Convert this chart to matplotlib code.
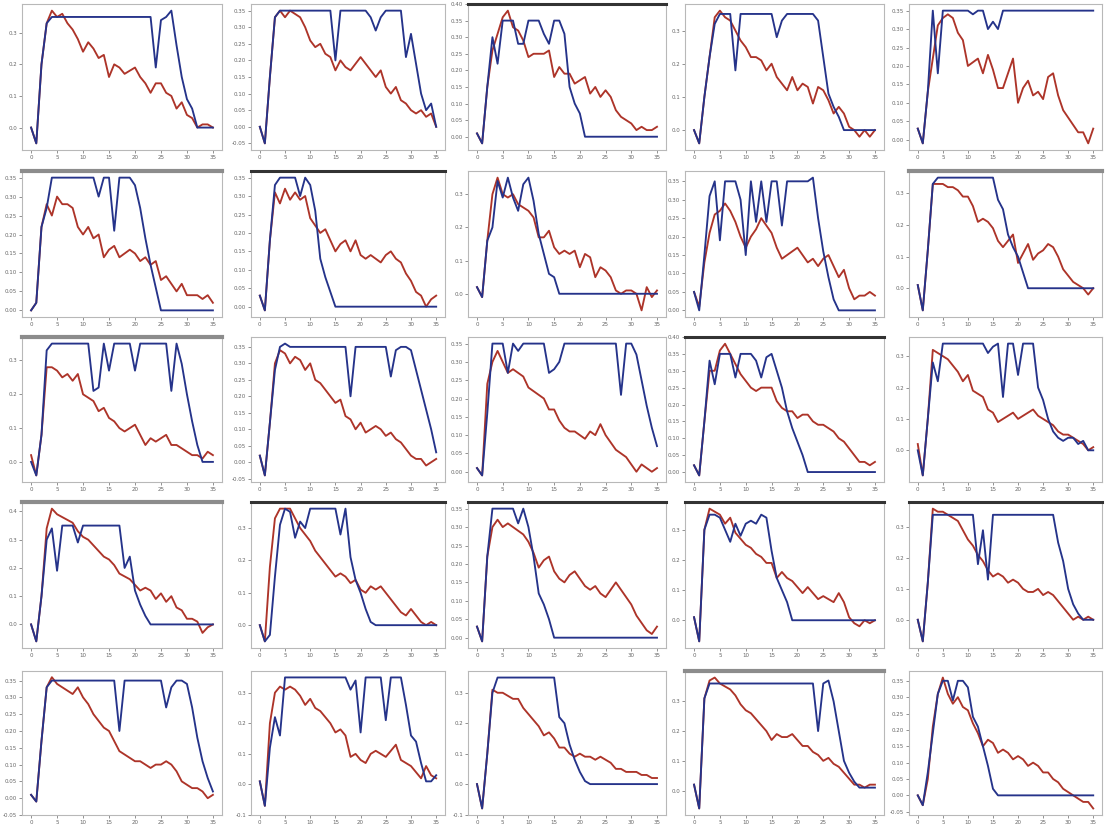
import matplotlib
matplotlib.use("Agg")
import matplotlib.pyplot as plt
from matplotlib.ticker import FormatStrFormatter

x_vals = [0, 1, 2, 3, 4, 5, 6, 7, 8, 9, 10, 11, 12, 13, 14, 15, 16, 17,
          18, 19, 20, 21, 22, 23, 24, 25, 26, 27, 28, 29, 30, 31, 32, 33, 34, 35]
x_ticks = [0, 5, 10, 15, 20, 25, 30, 35]

# ---------------- row 1 ----------------
p00_blue = [0.00,-0.05,0.20,0.33,0.35,0.35,0.35,0.35,0.35,0.35,
            0.35,0.35,0.35,0.35,0.35,0.35,0.35,0.35,0.35,0.35,
            0.35,0.35,0.35,0.35,0.19,0.34,0.35,0.37,0.26,0.16,
            0.09,0.06,0.00,0.00,0.00,0.00]
p00_red = [0.00,-0.05,0.20,0.33,0.37,0.35,0.36,0.33,0.31,0.28,
           0.24,0.27,0.25,0.22,0.23,0.16,0.20,0.19,0.17,0.18,
           0.19,0.16,0.14,0.11,0.14,0.14,0.11,0.10,0.06,0.08,
           0.04,0.03,0.00,0.01,0.01,0.00]
p01_blue = [0.00,-0.05,0.15,0.33,0.35,0.35,0.35,0.35,0.35,0.35,
            0.35,0.35,0.35,0.35,0.35,0.20,0.35,0.35,0.35,0.35,
            0.35,0.35,0.33,0.29,0.33,0.35,0.35,0.35,0.35,0.21,
            0.28,0.19,0.10,0.05,0.07,0.00]
p01_red = [0.00,-0.05,0.15,0.33,0.35,0.33,0.35,0.34,0.33,0.30,
           0.26,0.24,0.25,0.22,0.21,0.17,0.20,0.18,0.17,0.19,
           0.21,0.19,0.17,0.15,0.17,0.12,0.10,0.12,0.08,0.07,
           0.05,0.04,0.05,0.03,0.04,0.00]
p02_blue = [0.01,-0.02,0.15,0.30,0.22,0.35,0.35,0.35,0.28,0.28,
            0.35,0.35,0.35,0.31,0.28,0.35,0.35,0.31,0.15,0.10,
            0.07,0.00,0.00,0.00,0.00,0.00,0.00,0.00,0.00,0.00,
            0.00,0.00,0.00,0.00,0.00,0.00]
p02_red = [0.01,-0.02,0.15,0.26,0.31,0.36,0.38,0.33,0.32,0.29,
           0.24,0.25,0.25,0.25,0.26,0.18,0.21,0.19,0.19,0.16,
           0.17,0.18,0.13,0.15,0.12,0.14,0.12,0.08,0.06,0.05,
           0.04,0.02,0.03,0.02,0.02,0.03]
p03_blue = [0.00,-0.04,0.10,0.22,0.32,0.35,0.35,0.35,0.18,0.35,
            0.35,0.35,0.35,0.35,0.35,0.35,0.28,0.33,0.35,0.35,
            0.35,0.35,0.35,0.35,0.33,0.22,0.11,0.07,0.04,0.00,
            0.00,0.00,0.00,0.00,0.00,0.00]
p03_red = [0.00,-0.04,0.10,0.22,0.34,0.36,0.34,0.33,0.30,0.27,
           0.25,0.22,0.22,0.21,0.18,0.20,0.16,0.14,0.12,0.16,
           0.12,0.14,0.13,0.08,0.13,0.12,0.09,0.05,0.07,0.05,
           0.01,0.00,-0.02,0.00,-0.02,0.00]
p04_blue = [0.03,-0.01,0.13,0.35,0.18,0.35,0.35,0.35,0.35,0.35,
            0.35,0.34,0.35,0.35,0.30,0.32,0.30,0.35,0.35,0.35,
            0.35,0.35,0.35,0.35,0.35,0.35,0.35,0.35,0.35,0.35,
            0.35,0.35,0.35,0.35,0.35,0.35]
p04_red = [0.03,-0.01,0.13,0.22,0.31,0.33,0.34,0.33,0.29,0.27,
           0.20,0.21,0.22,0.18,0.23,0.19,0.14,0.14,0.18,0.22,
           0.10,0.14,0.16,0.12,0.13,0.11,0.17,0.18,0.12,0.08,
           0.06,0.04,0.02,0.02,-0.01,0.03]

# ---------------- row 2 ----------------
p10_blue = [0.00,0.02,0.22,0.27,0.35,0.35,0.35,0.35,0.35,0.35,
            0.35,0.35,0.35,0.30,0.35,0.35,0.21,0.35,0.35,0.35,
            0.33,0.27,0.19,0.12,0.06,0.00,0.00,0.00,0.00,0.00,
            0.00,0.00,0.00,0.00,0.00,0.00]
p10_red = [0.00,0.02,0.22,0.28,0.25,0.30,0.28,0.28,0.27,0.22,
           0.20,0.22,0.19,0.20,0.14,0.16,0.17,0.14,0.15,0.16,
           0.15,0.13,0.14,0.12,0.13,0.08,0.09,0.07,0.05,0.07,
           0.04,0.04,0.04,0.03,0.04,0.02]
p11_blue = [0.03,-0.01,0.18,0.33,0.35,0.35,0.35,0.35,0.30,0.35,
            0.33,0.26,0.13,0.08,0.04,0.00,0.00,0.00,0.00,0.00,
            0.00,0.00,0.00,0.00,0.00,0.00,0.00,0.00,0.00,0.00,
            0.00,0.00,0.00,0.00,0.00,0.00]
p11_red = [0.03,-0.01,0.18,0.31,0.28,0.32,0.29,0.31,0.29,0.30,
           0.24,0.22,0.20,0.21,0.18,0.15,0.17,0.18,0.15,0.18,
           0.14,0.13,0.14,0.13,0.12,0.14,0.15,0.13,0.12,0.09,
           0.07,0.04,0.03,0.00,0.02,0.03]
p12_blue = [0.02,-0.01,0.16,0.20,0.34,0.29,0.35,0.29,0.25,0.33,
            0.35,0.28,0.18,0.12,0.06,0.05,0.00,0.00,0.00,0.00,
            0.00,0.00,0.00,0.00,0.00,0.00,0.00,0.00,0.00,0.00,
            0.00,0.00,0.00,0.00,0.00,0.00]
p12_red = [0.02,-0.01,0.16,0.30,0.35,0.30,0.29,0.30,0.27,0.26,
           0.25,0.23,0.17,0.17,0.19,0.14,0.12,0.13,0.12,0.13,
           0.08,0.12,0.11,0.05,0.08,0.07,0.05,0.01,0.00,0.01,
           0.01,0.00,-0.05,0.02,-0.01,0.01]
p13_blue = [0.05,0.00,0.15,0.31,0.35,0.19,0.35,0.35,0.35,0.30,
            0.15,0.35,0.24,0.35,0.24,0.35,0.35,0.23,0.35,0.35,
            0.35,0.35,0.35,0.36,0.25,0.16,0.09,0.03,0.00,0.00,
            0.00,0.00,0.00,0.00,0.00,0.00]
p13_red = [0.05,0.01,0.13,0.21,0.26,0.27,0.29,0.27,0.24,0.20,
           0.17,0.20,0.22,0.25,0.23,0.21,0.17,0.14,0.15,0.16,
           0.17,0.15,0.13,0.14,0.12,0.14,0.15,0.12,0.09,0.11,
           0.06,0.03,0.04,0.04,0.05,0.04]
p14_blue = [0.01,-0.07,0.12,0.33,0.35,0.35,0.35,0.35,0.35,0.35,
            0.35,0.35,0.35,0.35,0.35,0.35,0.28,0.25,0.17,0.13,
            0.10,0.05,0.00,0.00,0.00,0.00,0.00,0.00,0.00,0.00,
            0.00,0.00,0.00,0.00,0.00,0.00]
p14_red = [0.01,-0.07,0.12,0.33,0.33,0.33,0.32,0.32,0.31,0.29,
           0.29,0.26,0.21,0.22,0.21,0.19,0.15,0.13,0.15,0.17,
           0.08,0.11,0.14,0.09,0.11,0.12,0.14,0.13,0.10,0.06,
           0.04,0.02,0.01,0.00,-0.02,0.00]

# ---------------- row 3 ----------------
p20_blue = [0.00,-0.04,0.08,0.33,0.35,0.35,0.35,0.35,0.35,0.35,
            0.35,0.35,0.21,0.22,0.35,0.27,0.35,0.35,0.35,0.35,
            0.27,0.35,0.35,0.35,0.35,0.35,0.35,0.21,0.35,0.29,
            0.20,0.12,0.05,0.00,0.00,0.00]
p20_red = [0.02,-0.04,0.08,0.28,0.28,0.27,0.25,0.26,0.24,0.26,
           0.20,0.19,0.18,0.15,0.16,0.13,0.12,0.10,0.09,0.10,
           0.11,0.08,0.05,0.07,0.06,0.07,0.08,0.05,0.05,0.04,
           0.03,0.02,0.02,0.01,0.03,0.02]
p21_blue = [0.02,-0.04,0.12,0.28,0.35,0.36,0.35,0.35,0.35,0.35,
            0.35,0.35,0.35,0.35,0.35,0.35,0.35,0.35,0.20,0.35,
            0.35,0.35,0.35,0.35,0.35,0.35,0.26,0.34,0.35,0.35,
            0.34,0.28,0.22,0.16,0.10,0.03]
p21_red = [0.02,-0.04,0.12,0.30,0.34,0.33,0.30,0.32,0.31,0.28,
           0.30,0.25,0.24,0.22,0.20,0.18,0.19,0.14,0.13,0.10,
           0.12,0.09,0.10,0.11,0.10,0.08,0.09,0.07,0.06,0.04,
           0.02,0.01,0.01,-0.01,0.00,0.01]
p22_blue = [0.01,-0.01,0.16,0.35,0.35,0.35,0.27,0.35,0.33,0.35,
            0.35,0.35,0.35,0.35,0.27,0.28,0.30,0.35,0.35,0.35,
            0.35,0.35,0.35,0.35,0.35,0.35,0.35,0.35,0.21,0.35,
            0.35,0.32,0.25,0.18,0.12,0.07]
p22_red = [0.01,-0.01,0.24,0.30,0.33,0.30,0.27,0.28,0.27,0.26,
           0.23,0.22,0.21,0.20,0.17,0.17,0.14,0.12,0.11,0.11,
           0.10,0.09,0.11,0.10,0.13,0.10,0.08,0.06,0.05,0.04,
           0.02,0.00,0.02,0.01,0.00,0.01]
p23_blue = [0.02,-0.01,0.15,0.33,0.26,0.35,0.35,0.35,0.28,0.35,
            0.35,0.35,0.33,0.28,0.34,0.35,0.30,0.25,0.18,0.13,
            0.09,0.05,0.00,0.00,0.00,0.00,0.00,0.00,0.00,0.00,
            0.00,0.00,0.00,0.00,0.00,0.00]
p23_red = [0.02,-0.01,0.15,0.30,0.30,0.36,0.38,0.35,0.32,0.29,
           0.27,0.25,0.24,0.25,0.25,0.25,0.21,0.19,0.18,0.18,
           0.16,0.17,0.17,0.15,0.14,0.14,0.13,0.12,0.10,0.09,
           0.07,0.05,0.03,0.03,0.02,0.03]
p24_blue = [0.00,-0.08,0.10,0.28,0.22,0.34,0.34,0.34,0.34,0.34,
            0.34,0.34,0.34,0.34,0.31,0.33,0.34,0.17,0.34,0.34,
            0.24,0.34,0.34,0.34,0.20,0.16,0.10,0.06,0.04,0.03,
            0.04,0.04,0.02,0.03,0.00,0.00]
p24_red = [0.02,-0.08,0.10,0.32,0.31,0.30,0.29,0.27,0.25,0.22,
           0.24,0.19,0.18,0.17,0.13,0.12,0.09,0.10,0.11,0.12,
           0.10,0.11,0.12,0.13,0.11,0.10,0.09,0.08,0.06,0.05,
           0.05,0.04,0.03,0.02,0.00,0.01]

# ---------------- row 4 ----------------
p30_blue = [0.00,-0.06,0.10,0.30,0.34,0.19,0.35,0.35,0.35,0.29,
            0.35,0.35,0.35,0.35,0.35,0.35,0.35,0.35,0.20,0.24,
            0.12,0.07,0.03,0.00,0.00,0.00,0.00,0.00,0.00,0.00,
            0.00,0.00,0.00,0.00,0.00,0.00]
p30_red = [0.00,-0.06,0.10,0.34,0.41,0.39,0.38,0.37,0.36,0.33,
           0.31,0.30,0.28,0.26,0.24,0.23,0.21,0.18,0.17,0.16,
           0.14,0.12,0.13,0.12,0.09,0.11,0.08,0.10,0.06,0.05,
           0.02,0.02,0.01,-0.03,-0.01,0.00]
p31_blue = [0.00,-0.05,-0.03,0.15,0.31,0.36,0.35,0.27,0.32,0.30,
            0.36,0.36,0.36,0.36,0.36,0.36,0.28,0.36,0.21,0.14,
            0.10,0.05,0.01,0.00,0.00,0.00,0.00,0.00,0.00,0.00,
            0.00,0.00,0.00,0.00,0.00,0.00]
p31_red = [0.00,-0.05,0.18,0.33,0.36,0.36,0.36,0.33,0.30,0.28,
           0.26,0.23,0.21,0.19,0.17,0.15,0.16,0.15,0.13,0.14,
           0.11,0.10,0.12,0.11,0.12,0.10,0.08,0.06,0.04,0.03,
           0.05,0.03,0.01,0.00,0.01,0.00]
p32_blue = [0.03,-0.01,0.22,0.35,0.35,0.35,0.35,0.35,0.31,0.35,
            0.30,0.22,0.12,0.09,0.05,0.00,0.00,0.00,0.00,0.00,
            0.00,0.00,0.00,0.00,0.00,0.00,0.00,0.00,0.00,0.00,
            0.00,0.00,0.00,0.00,0.00,0.00]
p32_red = [0.03,-0.01,0.22,0.30,0.32,0.30,0.31,0.30,0.29,0.28,
           0.26,0.23,0.19,0.21,0.22,0.18,0.16,0.15,0.17,0.18,
           0.16,0.14,0.13,0.14,0.12,0.11,0.13,0.15,0.13,0.11,
           0.09,0.06,0.04,0.02,0.01,0.03]
p33_blue = [0.01,-0.07,0.30,0.35,0.35,0.34,0.30,0.26,0.32,0.28,
            0.32,0.33,0.32,0.35,0.34,0.23,0.14,0.10,0.06,0.00,
            0.00,0.00,0.00,0.00,0.00,0.00,0.00,0.00,0.00,0.00,
            0.00,0.00,0.00,0.00,0.00,0.00]
p33_red = [0.01,-0.07,0.30,0.37,0.36,0.35,0.32,0.34,0.29,0.27,
           0.25,0.24,0.22,0.21,0.19,0.19,0.14,0.16,0.14,0.13,
           0.11,0.09,0.11,0.09,0.07,0.08,0.07,0.06,0.09,0.06,
           0.01,-0.01,-0.02,0.00,-0.01,0.00]
p34_blue = [0.00,-0.07,0.12,0.34,0.34,0.34,0.34,0.34,0.34,0.34,
            0.34,0.34,0.18,0.29,0.13,0.34,0.34,0.34,0.34,0.34,
            0.34,0.34,0.34,0.34,0.34,0.34,0.34,0.34,0.25,0.19,
            0.10,0.05,0.02,0.00,0.00,0.00]
p34_red = [0.00,-0.07,0.12,0.36,0.35,0.35,0.34,0.33,0.32,0.29,
           0.26,0.24,0.21,0.19,0.16,0.14,0.15,0.14,0.12,0.13,
           0.12,0.10,0.09,0.09,0.10,0.08,0.09,0.08,0.06,0.04,
           0.02,0.00,0.01,0.00,0.01,0.00]

# ---------------- row 5 ----------------
p40_blue = [0.01,-0.01,0.17,0.33,0.35,0.35,0.35,0.35,0.35,0.35,
            0.35,0.35,0.35,0.35,0.35,0.35,0.35,0.20,0.35,0.35,
            0.35,0.35,0.35,0.35,0.35,0.35,0.27,0.33,0.35,0.35,
            0.34,0.27,0.18,0.11,0.06,0.02]
p40_red = [0.01,-0.01,0.17,0.33,0.36,0.34,0.33,0.32,0.31,0.33,
           0.30,0.28,0.25,0.23,0.21,0.20,0.17,0.14,0.13,0.12,
           0.11,0.11,0.10,0.09,0.10,0.10,0.11,0.10,0.08,0.05,
           0.04,0.03,0.03,0.02,0.00,0.01]
p41_blue = [0.01,-0.07,0.12,0.22,0.16,0.35,0.35,0.35,0.35,0.35,
            0.35,0.35,0.35,0.35,0.35,0.35,0.35,0.35,0.31,0.34,
            0.17,0.35,0.35,0.35,0.35,0.21,0.35,0.35,0.35,0.26,
            0.16,0.14,0.07,0.01,0.01,0.03]
p41_red = [0.01,-0.07,0.20,0.30,0.32,0.31,0.32,0.31,0.29,0.26,
           0.28,0.25,0.24,0.22,0.20,0.17,0.18,0.16,0.09,0.10,
           0.08,0.07,0.10,0.11,0.10,0.09,0.11,0.13,0.08,0.07,
           0.06,0.04,0.02,0.06,0.03,0.02]
p42_blue = [0.00,-0.08,0.10,0.30,0.35,0.35,0.35,0.35,0.35,0.35,
            0.35,0.35,0.35,0.35,0.35,0.35,0.22,0.20,0.13,0.08,
            0.04,0.01,0.00,0.00,0.00,0.00,0.00,0.00,0.00,0.00,
            0.00,0.00,0.00,0.00,0.00,0.00]
p42_red = [0.00,-0.08,0.10,0.31,0.30,0.30,0.29,0.28,0.28,0.25,
           0.23,0.21,0.19,0.16,0.17,0.15,0.12,0.12,0.10,0.09,
           0.10,0.09,0.09,0.08,0.09,0.08,0.07,0.05,0.05,0.04,
           0.04,0.04,0.03,0.03,0.02,0.02]
p43_blue = [0.02,-0.06,0.31,0.36,0.36,0.36,0.36,0.36,0.36,0.36,
            0.36,0.36,0.36,0.36,0.36,0.36,0.36,0.36,0.36,0.36,
            0.36,0.36,0.36,0.36,0.20,0.36,0.37,0.30,0.20,0.10,
            0.06,0.03,0.01,0.01,0.01,0.01]
p43_red = [0.02,-0.06,0.31,0.37,0.38,0.36,0.35,0.34,0.32,0.29,
           0.27,0.26,0.24,0.22,0.20,0.17,0.19,0.18,0.18,0.19,
           0.17,0.15,0.15,0.13,0.12,0.10,0.11,0.09,0.08,0.06,
           0.04,0.02,0.02,0.01,0.02,0.02]
p44_blue = [0.00,-0.03,0.07,0.19,0.31,0.35,0.35,0.29,0.35,0.35,
            0.33,0.24,0.21,0.15,0.09,0.02,0.00,0.00,0.00,0.00,
            0.00,0.00,0.00,0.00,0.00,0.00,0.00,0.00,0.00,0.00,
            0.00,0.00,0.00,0.00,0.00,0.00]
p44_red = [0.00,-0.03,0.05,0.21,0.31,0.36,0.31,0.28,0.30,0.27,
           0.26,0.22,0.19,0.15,0.17,0.16,0.13,0.14,0.13,0.11,
           0.12,0.11,0.09,0.10,0.09,0.07,0.07,0.05,0.04,0.02,
           0.01,0.00,-0.01,-0.02,-0.02,-0.04]

# y tick label sets
yt_01 = [0.0, 0.1, 0.2, 0.3]
yt_01b = [0.0, 0.1, 0.2, 0.3, 0.4]
yt_01c = [-0.1, 0.0, 0.1, 0.2, 0.3]
yt_005 = [0.00, 0.05, 0.10, 0.15, 0.20, 0.25, 0.30, 0.35]
yt_005n = [-0.05, 0.00, 0.05, 0.10, 0.15, 0.20, 0.25, 0.30, 0.35]
yt_005t = [0.00, 0.05, 0.10, 0.15, 0.20, 0.25, 0.30, 0.35, 0.40]

panels = [
    [(p00_blue, p00_red, yt_01), (p01_blue, p01_red, yt_005n), (p02_blue, p02_red, yt_005t),
     (p03_blue, p03_red, yt_01), (p04_blue, p04_red, yt_005)],
    [(p10_blue, p10_red, yt_005), (p11_blue, p11_red, yt_005), (p12_blue, p12_red, yt_01),
     (p13_blue, p13_red, yt_005), (p14_blue, p14_red, yt_01)],
    [(p20_blue, p20_red, yt_01), (p21_blue, p21_red, yt_005n), (p22_blue, p22_red, yt_005),
     (p23_blue, p23_red, yt_005t), (p24_blue, p24_red, yt_01)],
    [(p30_blue, p30_red, yt_01b), (p31_blue, p31_red, yt_01), (p32_blue, p32_red, yt_005),
     (p33_blue, p33_red, yt_01), (p34_blue, p34_red, yt_01)],
    [(p40_blue, p40_red, yt_005n), (p41_blue, p41_red, yt_01c), (p42_blue, p42_red, yt_01c),
     (p43_blue, p43_red, yt_01), (p44_blue, p44_red, yt_005n)],
]

# top border style per panel: 0 light, 1 thick grey, 2 thick dark
top_style = [
    [0, 0, 2, 0, 0],
    [1, 2, 0, 0, 1],
    [1, 0, 0, 2, 0],
    [1, 2, 2, 2, 2],
    [0, 0, 0, 1, 0],
]

W, H = 1105, 827
col_left = [22, 251, 468, 685, 909]
col_right = [222, 445, 666, 884, 1102]
row_top = [4, 171, 337, 502, 671]
row_bottom = [150, 317, 482, 648, 815]

fig = plt.figure(figsize=(W / 100, H / 100), dpi=100)
fig.patch.set_facecolor("white")

BLUE = "#25338a"
RED = "#ad3429"

for r in range(5):
    for c in range(5):
        blue, red, yt = panels[r][c]
        for name, arr in (("blue", blue), ("red", red)):
            if len(arr) != len(x_vals):
                raise ValueError(f"panel {r}{c} {name} has {len(arr)} values")
        left = col_left[c] / W
        bottom = 1 - row_bottom[r] / H
        width = (col_right[c] - col_left[c]) / W
        height = (row_bottom[r] - row_top[r]) / H
        ax = fig.add_axes([left, bottom, width, height])
        ax.plot(x_vals, red, color=RED, lw=1.35, zorder=2)
        ax.plot(x_vals, blue, color=BLUE, lw=1.35, zorder=3)
        ax.set_xticks(x_ticks)
        ax.set_yticks(yt)
        if yt[1] - yt[0] < 0.09:
            ax.yaxis.set_major_formatter(FormatStrFormatter("%.2f"))
        else:
            ax.yaxis.set_major_formatter(FormatStrFormatter("%.1f"))
        ax.tick_params(labelsize=4, colors="#666666", length=2, width=0.5, pad=1.5)
        for sp in ax.spines.values():
            sp.set_color("#b8b8b8")
            sp.set_linewidth(0.8)
        ts = top_style[r][c]
        if ts == 1:
            ax.spines["top"].set_color("#8c8c8c")
            ax.spines["top"].set_linewidth(3.0)
        elif ts == 2:
            ax.spines["top"].set_color("#333333")
            ax.spines["top"].set_linewidth(2.2)

fig.savefig("out.png", dpi=100, facecolor="white")
